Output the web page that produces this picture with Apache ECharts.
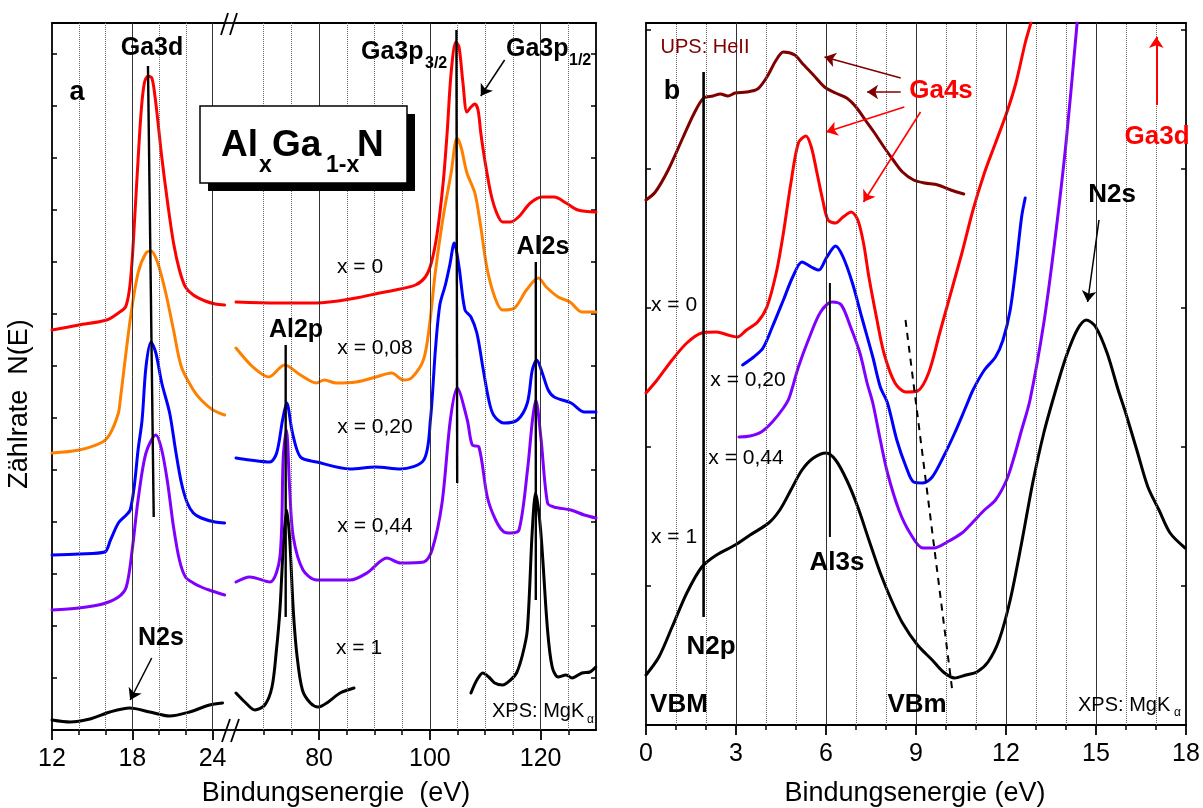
<!DOCTYPE html>
<html><head><meta charset="utf-8">
<script src="https://cdn.jsdelivr.net/npm/echarts@6/dist/echarts.min.js"></script>
<style>html,body{margin:0;padding:0;background:#fff}#c{width:1203px;height:808px}</style>
</head><body><div id="c"></div>
<script>
// ---------- tick / grid values ----------
var seg1Major = [12, 18, 24];
var seg1Minor = [14, 16, 20, 22];
var seg2Major = [80, 100, 120];
var seg2Minor = [70, 75, 85, 90, 95, 105, 110, 115, 125];
var rMajor = [0, 3, 6, 9, 12, 15, 18];
var rMinor = [1, 2, 4, 5, 7, 8, 10, 11, 13, 14, 16, 17];

// ---------- panel a, segment 12..25 eV ----------
var redA1 = [[12.0,400],[14.0,405],[16.08,410],[16.96,417],[17.49,423],[17.78,440],[17.99,470],[18.2,517],[18.43,570],[18.67,620],[18.9,647],[19.17,654],[19.46,652],[19.7,633],[19.9,610],[20.2,573],[20.64,527],[21.08,487],[21.52,460],[21.97,443],[22.56,435],[23.44,429],[24.2,426],[24.9,425]];
var orangeA1 = [[12.0,277],[14.02,280],[15.78,288],[16.37,297],[16.96,317],[17.1,330],[17.84,410],[18.43,457],[19.02,477],[19.4,479],[19.9,467],[20.5,437],[21.08,400],[21.67,363],[22.56,340],[23.15,330],[24.03,320],[24.9,315]];
var blueA1 = [[12,175],[14,176],[15.93,178],[16.37,190],[16.96,207],[17.55,215],[17.84,220],[18.14,243],[18.43,280],[18.73,310],[19.02,363],[19.4,388],[19.76,377],[20.2,347],[20.79,317],[21.23,280],[21.67,247],[22.11,227],[22.56,217],[23.15,212],[24.18,208],[24.9,207]];
var purpleA1 = [[12,120],[14,122],[15.78,126],[16.96,133],[17.55,143],[17.99,180],[18.43,230],[19.02,277],[19.76,295],[20.2,280],[20.64,247],[21.08,203],[21.52,170],[21.97,153],[22.56,147],[23.15,143],[23.74,140],[24.9,135]];
var blackA1 = [[12,10],[13.34,8],[14.83,11],[16.32,18],[17.81,22],[19.3,18],[20.79,14],[22.28,18],[23.77,25],[24.74,27]];

// ---------- panel a, segment 65..130 eV ----------
var redA2 = [[65,428],[72.34,427],[79.5,427],[86.66,432],[90.95,437],[93.82,440],[97.39,445],[99.18,453],[100.26,467],[101.33,497],[102.4,547],[103.12,597],[103.84,657],[104.7,688],[105.27,683],[105.98,647],[106.7,618],[107.42,623],[108.13,626],[108.7,620],[109.2,597],[109.92,570],[110.99,537],[112.07,517],[113.14,508],[114.57,508],[116.0,513],[118.15,527],[120.3,533],[122.45,533],[124.6,527],[126.74,520],[130,518]];
var orangeA2 = [[65,382],[68.05,363],[70.91,353],[73.77,365],[76.64,355],[79.5,347],[80.93,350],[83.08,347],[86.66,348],[90.24,353],[93.1,357],[95.25,350],[96.68,352],[98.83,370],[99.9,403],[100.97,457],[102.4,513],[103.84,557],[104.91,592],[105.63,583],[106.7,557],[108.13,537],[109.2,503],[110.28,463],[111.71,433],[113.14,420],[115.29,422],[117.44,440],[119.59,452],[121.02,443],[123.17,433],[125.31,428],[127.46,418],[130,418]];
var blueA2 = [[65,272],[67.5,270],[71.12,268],[72.34,277],[73.41,310],[74.15,327],[75.2,297],[76.64,273],[79.58,268],[85.62,261],[90.24,263],[94.67,261],[98.9,270],[100.1,310],[101.0,380],[101.8,425],[102.8,445],[103.6,465],[104.41,487],[105.27,463],[106.34,420],[107.42,413],[108.49,397],[109.56,363],[110.64,330],[111.5,315],[113.3,307],[115.8,310],[117.6,327],[118.5,360],[119.3,370],[120.3,357],[121.37,340],[122.45,333],[125.5,327],[127.9,318],[130,318]];
var purpleA2 = [[65,148],[67.5,153],[71.12,148],[72.93,173],[73.53,273],[74.1,300],[74.7,240],[75.34,193],[77.1,160],[79.58,150],[85.62,150],[88.64,157],[92.26,172],[94.67,167],[98.9,168],[100.4,180],[102.2,227],[103.7,310],[104.94,342],[106.76,310],[107.66,285],[108.86,283],[110.38,233],[111.88,210],[113.39,198],[114.6,197],[116.1,200],[117.63,260],[118.53,310],[119.13,330],[120.04,293],[121.25,227],[122.39,223],[125.47,220],[127.88,215],[130,212]];
var blackA2a = [[65,37],[66.6,28],[68.4,20],[70.2,25],[71.5,43],[72.3,80],[72.93,120],[73.6,190],[74.15,220],[74.7,190],[75.34,120],[76.0,75],[76.99,40],[78.43,27],[79.86,23],[81.65,28],[83.79,37],[86.3,42]];
var blackA2b = [[107.42,37],[108.49,50],[109.56,57],[110.64,53],[111.71,47],[113.14,45],[114.57,50],[115.65,57],[116.72,75],[117.6,100],[118.5,200],[119.1,237],[120.0,200],[121.25,100],[122.09,63],[123.17,53],[124.6,55],[125.67,52],[127.46,57],[128.9,58],[129.96,63]];

// ---------- panel b ----------
var upsB = [[0,525],[0.31,533],[0.74,555],[1.24,588],[1.61,612],[1.92,627],[2.23,629],[2.48,631],[2.73,629],[2.97,632],[3.35,633],[3.72,636],[4.03,648],[4.34,665],[4.58,673],[4.96,670],[5.2,662],[5.58,650],[5.95,638],[6.32,632],[6.69,627],[7.0,618],[7.31,605],[7.62,592],[7.93,578],[8.24,565],[8.55,553],[8.92,545],[9.29,542],[9.73,540],[10.16,535],[10.59,531]];
var redB = [[0,332],[0.37,345],[0.87,365],[1.36,382],[1.86,392],[2.35,393],[2.73,390],[3.04,388],[3.35,395],[3.72,403],[4.03,418],[4.34,452],[4.58,492],[4.83,542],[5.08,582],[5.33,589],[5.51,578],[5.7,552],[5.89,525],[6.07,505],[6.32,502],[6.57,508],[6.84,513],[7.06,505],[7.25,482],[7.43,448],[7.68,408],[7.93,372],[8.3,342],[8.67,333],[9.05,334],[9.42,352],[9.79,392],[10.16,432],[10.53,472],[10.9,515],[11.28,552],[11.65,582],[12.02,612],[12.33,642],[12.64,682],[12.83,702]];
var blueB = [[3.22,360],[3.59,368],[3.9,377],[4.21,398],[4.58,425],[4.89,448],[5.2,463],[5.51,458],[5.76,455],[6.01,467],[6.32,479],[6.57,468],[6.88,442],[7.19,408],[7.56,368],[7.81,338],[8.05,322],[8.36,285],[8.67,258],[8.92,243],[9.23,242],[9.54,248],[9.91,268],[10.29,292],[10.66,318],[10.9,335],[11.28,355],[11.65,368],[11.9,385],[12.14,415],[12.33,458],[12.52,508],[12.64,527]];
var purpleB = [[3.1,288],[3.47,289],[3.84,293],[4.21,303],[4.58,317],[4.77,327],[5.08,358],[5.45,388],[5.82,413],[6.2,423],[6.51,420],[6.82,398],[7.13,372],[7.37,342],[7.56,322],[7.81,285],[8.05,252],[8.43,215],[8.8,192],[9.23,177],[9.6,177],[10.04,183],[10.53,192],[10.9,203],[11.28,215],[11.65,225],[12.02,245],[12.27,268],[12.52,295],[12.8,325],[13.26,402],[13.63,485],[14.0,582],[14.37,702]];
var blackB = [[0,50],[0.43,68],[0.87,98],[1.36,132],[1.86,158],[2.35,170],[2.97,180],[3.47,190],[4.09,202],[4.46,215],[4.83,235],[5.2,255],[5.58,267],[6.01,272],[6.32,265],[6.69,245],[7.06,218],[7.43,185],[7.81,152],[8.18,125],[8.55,102],[9.05,80],[9.54,65],[9.91,53],[10.29,47],[10.66,50],[11.03,53],[11.4,63],[11.77,85],[12.14,125],[12.52,182],[12.89,242],[13.26,292],[13.63,332],[14.0,368],[14.37,395],[14.68,405],[14.99,398],[15.37,372],[15.74,335],[15.99,312],[16.36,275],[16.73,238],[17.1,215],[17.47,192],[17.97,177]];

// ---------- annotation lines / arrows (data coords) ----------
var ga3dLine = [[19.17,664],[19.6,213]];
var ga3p32Line = [[104.8,700],[104.94,247]];
var al2pLine = [[73.97,385],[73.97,113]];
var al2sLine = [[119.13,468],[119.13,130]];
var n2sArrowA = [[19.45,72],[17.84,30]];
var ga3p12Arrow = [[113.5,670],[109.2,634]];
var n2pLine = [[1.92,653],[1.92,108]];
var al3sLine = [[6.13,442],[6.13,188]];
var vbmLine = [[8.65,405],[10.22,32]];
var ga4sArrowsDark = [[[8.49,647],[5.95,668]],[[8.49,633],[7.37,633]]];
var ga4sArrowsRed = [[[8.61,618],[6.01,593]],[[9.15,613],[7.25,523]]];
var ga3dArrowB = [[17.01,620],[17.01,688]];
var n2sArrowB = [[15.1,505],[14.72,423]];

var FONT = '"Liberation Sans", Arial, Helvetica, sans-serif';
var C = {red:'#ff0000', orange:'#ff8000', blue:'#0000ff', purple:'#8000ff', black:'#000000', dark:'#800000'};

function curve(data, color, xi, yi, z) {
  return {type:'line', data:data, xAxisIndex:xi, yAxisIndex:yi, showSymbol:false, symbol:'none',
    smooth:0.3, lineStyle:{color:color, width:3, cap:'round', join:'round'}, z:z||3, silent:true, emphasis:{disabled:true}};
}
function segLine(data, xi, yi, w, type) {
  return {type:'line', data:data, xAxisIndex:xi, yAxisIndex:yi, symbol:'none', showSymbol:false,
    lineStyle:{color:'#000', width:w, type:type||'solid'}, z:6, silent:true, emphasis:{disabled:true}};
}
function arrows(pairs, color, xi, yi, w) {
  return {type:'line', data:[], xAxisIndex:xi, yAxisIndex:yi, z:7, silent:true,
    markLine:{silent:true, symbol:['none','arrow'], symbolSize:11, animation:false,
      label:{show:false}, emphasis:{disabled:true},
      lineStyle:{color:color, width:w, type:'solid'},
      data:pairs.map(function(p){return [{coord:p[0]},{coord:p[1]}];})}};
}
function gridLines(minor, major, xi, yi) {
  var d = minor.map(function(v){return {xAxis:v, lineStyle:{type:'dotted', color:'#666', width:1}};})
    .concat(major.map(function(v){return {xAxis:v, lineStyle:{type:'solid', color:'#333', width:1}};}));
  return {type:'line', data:[], xAxisIndex:xi, yAxisIndex:yi, z:1, silent:true,
    markLine:{silent:true, symbol:['none','none'], animation:false, label:{show:false},
      emphasis:{disabled:true}, data:d}};
}

var AX = {color:'#000', width:1.8};
function xBottom(gi, min, max, major) {
  return {type:'value', gridIndex:gi, min:min, max:max, position:'bottom',
    axisLine:{show:true, onZero:false, lineStyle:AX},
    axisTick:{show:true, customValues:major, length:10, lineStyle:AX},
    axisLabel:{show:true, customValues:major, fontSize:25, color:'#000', fontFamily:FONT, margin:17},
    splitLine:{show:false}};
}
function xTop(gi, min, max) {
  return {type:'value', gridIndex:gi, min:min, max:max, position:'top',
    axisLine:{show:true, onZero:false, lineStyle:AX}, axisTick:{show:false}, axisLabel:{show:false}, splitLine:{show:false}};
}
function xMinor(gi, min, max, minor) {
  return {type:'value', gridIndex:gi, min:min, max:max, position:'bottom',
    axisLine:{show:false, onZero:false}, axisTick:{show:true, customValues:minor, length:5, lineStyle:{color:'#000', width:1.5}},
    axisLabel:{show:false}, splitLine:{show:false}};
}
function yAx(gi, max, interval, pos) {
  return {type:'value', gridIndex:gi, min:0, max:max, interval:interval, position:pos,
    axisLine:{show:true, onZero:false, lineStyle:AX}, axisTick:{show:true, inside:true, length:5, lineStyle:{color:'#000', width:1.5}},
    axisLabel:{show:false}, splitLine:{show:false}};
}
function yHidden(gi) { return {type:'value', gridIndex:gi, min:0, max:1, show:false}; }

function T(text, x, y, size, opt) {
  opt = opt || {};
  return {type:'text', x:x, y:y, rotation:opt.rot||0, z:100, silent:true,
    style:{text:text, fill:opt.color||'#000', font:(opt.bold?'bold ':'')+size+'px '+FONT,
      textAlign:opt.align||'center', textVerticalAlign:'middle', align:opt.align||'center', verticalAlign:'middle'}};
}
function L(x1,y1,x2,y2,w) {
  return {type:'line', z:100, silent:true, shape:{x1:x1,y1:y1,x2:x2,y2:y2}, style:{stroke:'#000', lineWidth:w||1.8}};
}

var graphics = [
  // axis break marks and bridges
  L(226,23,236,23), L(226,730,236,730),
  L(221,35,228,13), L(230,35,237,13),
  L(222,742,230,719), L(231,742,239,719),
  // title box
  {type:'rect', z:90, silent:true, shape:{x:208,y:114,width:207,height:77}, style:{fill:'#000'}},
  {type:'rect', z:91, silent:true, shape:{x:200,y:106,width:207,height:77}, style:{fill:'#fff', stroke:'#000', lineWidth:1.5}},
  T('Al',221,146,37,{bold:true,align:'left'}), T('x',259,166,23,{bold:true,align:'left'}),
  T('Ga',272,146,37,{bold:true,align:'left'}), T('1-x',326,166,23,{bold:true,align:'left'}),
  T('N',357,146,37,{bold:true,align:'left'}),
  // panel a labels
  T('Ga3d',152,48,25,{bold:true}), T('a',77,93,27,{bold:true}),
  T('Ga3p',361,52,25,{bold:true,align:'left'}), T('3/2',425,64,16,{bold:true,align:'left'}),
  T('Ga3p',506,49,25,{bold:true,align:'left'}), T('1/2',569,61,16,{bold:true,align:'left'}),
  T('Al2s',543,247,25,{bold:true}), T('Al2p',296,330,25,{bold:true}), T('N2s',161,638,25,{bold:true}),
  T('x = 0',360,267,21), T('x = 0,08',375,348,21), T('x = 0,20',375,427,21), T('x = 0,44',375,526,21), T('x = 1',359,648,21),
  T('XPS: MgK',492,711,20,{align:'left'}), T('\u03b1',587,720,12,{align:'left'}),
  T('Bindungsenergie  (eV)',336,794,27),
  T('Z\u00e4hlrate  N(E)',20,404,27,{rot:Math.PI/2}),
  // panel b labels
  T('UPS: HeII',705,47,20,{color:C.dark}), T('b',672,92,27,{bold:true}),
  T('Ga4s',941,91,26,{bold:true,color:C.red}), T('Ga3d',1157,137,26,{bold:true,color:C.red}),
  T('N2s',1112,195,26,{bold:true}),
  T('x = 0',674,305,21), T('x = 0,20',748,380,21), T('x = 0,44',746,458,21), T('x = 1',674,537,21),
  T('N2p',711,647,26,{bold:true}), T('Al3s',837,563,26,{bold:true}),
  T('VBM',679,705,26,{bold:true}), T('VBm',917,705,26,{bold:true}),
  T('XPS: MgK',1078,705,20,{align:'left'}), T('\u03b1',1174,713,12,{align:'left'}),
  T('Bindungsenergie (eV)',915,794,27)
];

var option = {
  animation:false,
  backgroundColor:'#fff',
  grid:[
    {left:52, top:23, width:174, height:707},
    {left:236, top:23, width:360, height:707},
    {left:646, top:23, width:540, height:702},
    {left:52, top:23, width:174, height:707},
    {left:236, top:23, width:360, height:707},
    {left:646, top:23, width:540, height:702}
  ],
  xAxis:[
    xBottom(0,12,25,seg1Major), xBottom(1,65,130,seg2Major), xBottom(2,0,18,rMajor),
    xTop(0,12,25), xTop(1,65,130), xTop(2,0,18),
    xMinor(3,12,25,seg1Minor), xMinor(4,65,130,seg2Minor), xMinor(5,0,18,rMinor)
  ],
  yAxis:[
    yAx(0,707,52,'left'), yAx(1,707,52,'right'), yAx(2,702,139,'left'), yAx(2,702,139,'right'),
    yHidden(3), yHidden(4), yHidden(5)
  ],
  series:[
    gridLines(seg1Minor,[18,24],0,0),
    gridLines(seg2Minor,[80,100,120],1,1),
    gridLines(rMinor,[3,6,9,12,15],2,2),
    curve(blackA1,C.black,0,0), curve(purpleA1,C.purple,0,0), curve(blueA1,C.blue,0,0), curve(orangeA1,C.orange,0,0), curve(redA1,C.red,0,0),
    curve(blackA2a,C.black,1,1), curve(blackA2b,C.black,1,1), curve(purpleA2,C.purple,1,1), curve(blueA2,C.blue,1,1), curve(orangeA2,C.orange,1,1), curve(redA2,C.red,1,1),
    curve(blackB,C.black,2,2), curve(purpleB,C.purple,2,2), curve(blueB,C.blue,2,2), curve(redB,C.red,2,2), curve(upsB,C.dark,2,2),
    segLine(ga3dLine,0,0,2.4), segLine(ga3p32Line,1,1,2.4), segLine(al2pLine,1,1,2.4), segLine(al2sLine,1,1,2.4),
    segLine(n2pLine,2,2,2.6), segLine(al3sLine,2,2,2), segLine(vbmLine,2,2,2,[7,6]),
    arrows([n2sArrowA],'#000',0,0,1.5), arrows([ga3p12Arrow],'#000',1,1,1.5),
    arrows(ga4sArrowsDark,C.dark,2,2,1.6), arrows(ga4sArrowsRed,C.red,2,2,1.6),
    arrows([ga3dArrowB],C.red,2,2,2), arrows([n2sArrowB],'#000',2,2,1.5)
  ],
  graphic:graphics
};
var chart = echarts.init(document.getElementById('c'), null, {renderer:'canvas'});
chart.setOption(option);
</script></body></html>
